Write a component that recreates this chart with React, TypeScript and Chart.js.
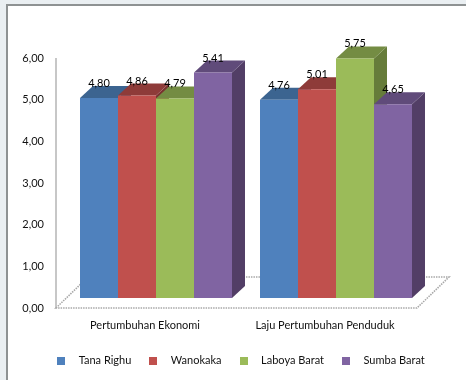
import { useEffect, useRef } from "react";
import { Chart, registerables } from "chart.js";

Chart.register(...registerables);

const categories = ["Pertumbuhan Ekonomi", "Laju Pertumbuhan Penduduk"];
const tanaRighu = [4.8, 4.76];
const wanokaka = [4.86, 5.01];
const laboyaBarat = [4.79, 5.75];
const sumbaBarat = [5.41, 4.65];
const seriesNames = ["Tana Righu", "Wanokaka", "Laboya Barat", "Sumba Barat"];
const frontColors = ["#4F81BD", "#C0504D", "#9BBB59", "#8064A2"];
const topColors = ["#3C6490", "#8E3B39", "#748C43", "#604B7A"];
const sideColors = ["#345678", "#7A3230", "#667C3A", "#523E66"];

const FONT = "Lato, 'Open Sans', sans-serif";
const DEPTH_X = 13;
const DEPTH_Y = 12;
const BAR_LIFT = 10; // bars stand part-way back on the floor
const PX_PER_UNIT = 250 / 6;

const comma = (v: number) => v.toFixed(2).replace(".", ",");

function square(color: string) {
  const c = document.createElement("canvas");
  c.width = 8;
  c.height = 8;
  const g = c.getContext("2d")!;
  g.fillStyle = color;
  g.fillRect(0, 0, 8, 8);
  return c;
}

function poly(ctx: CanvasRenderingContext2D, pts: number[][], fill: string) {
  ctx.beginPath();
  pts.forEach(([x, y], i) => (i ? ctx.lineTo(x, y) : ctx.moveTo(x, y)));
  ctx.closePath();
  ctx.fillStyle = fill;
  ctx.fill();
}

// Floor, axis line and the top and side faces of each 3D column.
const depthPlugin = {
  id: "depth",
  beforeDatasetsDraw(chart: any) {
    const { ctx, scales } = chart;
    const base = scales.y.getPixelForValue(0);
    const top = scales.y.getPixelForValue(6);
    const left = chart.chartArea.left - 10;
    const right = chart.chartArea.right - 9;

    ctx.save();
    ctx.strokeStyle = "#B4B4B4";
    ctx.lineWidth = 1.5;
    ctx.beginPath();
    ctx.moveTo(left, top);
    ctx.lineTo(left, base);
    ctx.stroke();

    ctx.setLineDash([1.5, 1]);
    ctx.strokeStyle = "#A8A8A8";
    ctx.lineWidth = 1.6;
    ctx.beginPath();
    ctx.moveTo(left, base);
    ctx.lineTo(left + 32, base - 31);
    ctx.lineTo(right + 32, base - 31);
    ctx.lineTo(right, base);
    ctx.closePath();
    ctx.stroke();
    ctx.setLineDash([]);

    chart.data.datasets.forEach((_: any, i: number) => {
      chart.getDatasetMeta(i).data.forEach((bar: any) => {
        const w = bar.width / 2;
        const l = bar.x - w;
        const r = bar.x + w;
        const t = bar.y;
        const b = bar.base;
        poly(ctx, [[r, t], [r + DEPTH_X, t - DEPTH_Y], [r + DEPTH_X, b - DEPTH_Y], [r, b]], sideColors[i]);
        poly(ctx, [[l, t], [r, t], [r + DEPTH_X, t - DEPTH_Y], [l + DEPTH_X, t - DEPTH_Y]], topColors[i]);
      });
    });
    ctx.restore();
  },
  afterDatasetsDraw(chart: any) {
    const { ctx } = chart;
    ctx.save();
    ctx.font = `11px ${FONT}`;
    ctx.fillStyle = "#000000";
    ctx.textAlign = "center";
    ctx.textBaseline = "middle";
    chart.data.datasets.forEach((ds: any, i: number) => {
      chart.getDatasetMeta(i).data.forEach((bar: any, j: number) => {
        ctx.fillText(comma(ds.data[j]), bar.x, bar.y - 14.5);
      });
    });
    ctx.restore();
  },
};

export default function App() {
  const ref = useRef<HTMLCanvasElement>(null);

  useEffect(() => {
    document.body.style.margin = "0";
    const values = [tanaRighu, wanokaka, laboyaBarat, sumbaBarat];
    const lift = BAR_LIFT / PX_PER_UNIT;
    const chart = new Chart(ref.current!, {
      type: "bar",
      data: {
        labels: categories,
        datasets: seriesNames.map((name, i) => ({
          label: name,
          data: values[i],
          backgroundColor: frontColors[i],
          yAxisID: "bars",
          barPercentage: 1,
          categoryPercentage: 152 / 180,
          pointStyle: square(frontColors[i]) as any,
        })),
      },
      options: {
        animation: false,
        responsive: false,
        layout: { padding: { top: 58, left: 8, right: 0, bottom: 4 } },
        plugins: {
          tooltip: { enabled: false },
          legend: {
            position: "bottom",
            labels: {
              usePointStyle: true,
              pointStyleWidth: 24,
              padding: 10,
              color: "#111111",
              font: { family: FONT, size: 11 },
            },
          },
        },
        scales: {
          x: {
            grid: { display: false },
            border: { display: false },
            afterFit: (s: any) => { s.height = 37; },
            ticks: { labelOffset: -11, padding: 3, color: "#111111", font: { family: FONT, size: 11 }, maxRotation: 0 },
          },
          y: {
            min: 0,
            max: 6,
            position: "left",
            grid: { display: false },
            border: { display: false },
            afterFit: (s: any) => { s.width = 58; },
            ticks: {
              stepSize: 1,
              padding: 14,
              color: "#111111",
              font: { family: FONT, size: 11 },
              callback: (v: any) => comma(Number(v)),
            },
          },
          bars: {
            min: -lift,
            max: 6 - lift,
            display: false,
          },
          // Empty right-hand axis that reserves room for the depth of the last columns.
          reserve: {
            position: "right",
            min: 0,
            max: 1,
            grid: { display: false },
            border: { display: false },
            ticks: { display: false },
            afterFit: (s: any) => { s.width = 40; },
          },
        },
      },
      plugins: [depthPlugin],
    });
    return () => chart.destroy();
  }, []);

  return (
    <div style={{ position: "relative", width: 466, height: 380, background: "#EAEFF2", overflow: "hidden" }}>
      <div
        style={{
          position: "absolute",
          left: 6,
          top: 4,
          width: 460,
          height: 376,
          boxSizing: "border-box",
          background: "#FFFFFF",
          borderLeft: "2px solid #8E9293",
          borderTop: "2px solid #8E9293",
        }}
      />
      <canvas ref={ref} width={466} height={380} style={{ position: "absolute", left: 0, top: 0, display: "block" }} />
    </div>
  );
}
